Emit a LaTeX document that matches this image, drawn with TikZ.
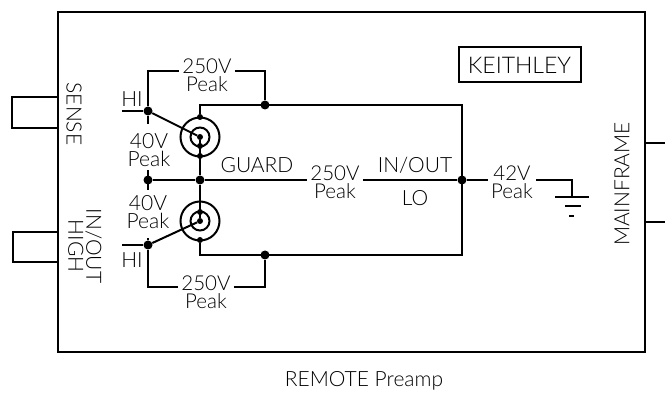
\documentclass[tikz,border=0pt]{standalone}
\usepackage{fontspec}
\setmainfont{Lato Light}
\usetikzlibrary{calc}
\tikzset{
	wire/.style={line width=2pt},
	thinwire/.style={line width=1.5pt},
	junction/.style={circle, fill=black, inner sep=0pt, minimum size=9pt},
	tick/.style={circle, fill=black, inner sep=0pt, minimum size=6pt},
	ring/.style={circle, draw=black, line width=2pt, inner sep=0pt},
	lbl/.style={align=center, inner sep=3pt, font=\fontsize{20.5}{17.5}\selectfont},
	small/.style={align=center, inner sep=0pt, font=\fontsize{21}{18}\selectfont}
}

\begin{document}
\begin{tikzpicture}[x=1pt, y=-1pt]
			%%%%% START %%%%%
			\useasboundingbox (0, 0) rectangle (665, 393);
			
			\draw[wire] (58, 12) rectangle (645, 352);
			\draw[wire] (58, 97) -- (12, 97) -- (12, 128) -- (58, 128);
			\draw[wire] (58, 232) -- (13, 232) -- (13, 262) -- (58, 262);
			\draw[thinwire] (645, 143) -- (665, 143);
			\draw[thinwire] (645, 222) -- (665, 222);
			
			\node[draw, wire, minimum width=122pt, minimum height=35pt, inner sep=0pt, font=\fontsize{23}{23}\selectfont] (keithley) at (519.5, 65) {KEITHLEY};
			
			\node[small, rotate=-90] (sense) at (74, 114) {SENSE};
			\node[small, rotate=-90] (inouthigh) at (85, 246) {IN/OUT\\HIGH};
			\node[small, rotate=90] (mainframe) at (622, 184) {MAINFRAME};
			\node[small] (caption) at (364, 381) {REMOTE Preamp};
			\node[small] (guardlabel) at (257, 165) {GUARD};
			\node[small] (inoutlabel) at (415, 165) {IN/OUT};
			\node[small] (lolabel) at (415, 198) {LO};
			\node[small] (hitop) at (132, 99) {HI};
			\node[small] (hibot) at (132, 260) {HI};
			\node[small] (fortytop) at (149, 150) {40V\\Peak};
			\node[small] (fortybot) at (148, 212) {40V\\Peak};
			
			\node[lbl] (peaktop) at (207, 75) {250V\\Peak};
			\node[lbl] (peakbot) at (206, 292) {250V\\Peak};
			\node[lbl] (peakmid) at (335, 182) {250V\\Peak};
			\node[lbl] (peakgnd) at (512, 182) {42V\\Peak};
			
			\node[ring, minimum size=39pt] (outertop) at (200, 137) {};
			\node[ring, minimum size=19pt] (innertop) at (200, 137) {};
			\node[ring, minimum size=39pt] (outerbot) at (200, 221) {};
			\node[ring, minimum size=19pt] (innerbot) at (200, 221) {};
			\node[tick] (centertop) at (200, 137) {};
			\node[tick] (centerbot) at (200, 221) {};
			\node[tick] (ringtop) at (200, 117) {};
			\node[tick] (ringbot) at (200, 240) {};
			\node[tick] (tapa) at (200, 146) {};
			\node[tick] (tapb) at (200, 156) {};
			\node[tick] (tapc) at (200, 212) {};
			
			\node[junction] (hia) at (148, 111) {};
			\node[junction] (hib) at (148, 245) {};
			\node[junction] (guarda) at (148, 180) {};
			\node[junction] (guardb) at (200, 180) {};
			\node[junction] (loa) at (462, 180) {};
			\node[junction] (toptap) at (265, 105) {};
			\node[junction] (bottap) at (265, 255) {};
			
			\coordinate (hiaend) at (122, 111);
			\coordinate (hibend) at (122, 245);
			\coordinate (hiastub) at (148, 124);
			\coordinate (hibstub) at (148, 238);
			\coordinate (guardup) at (148, 170);
			\coordinate (guarddn) at (148, 190);
			\coordinate (cornera) at (200, 105);
			\coordinate (cornerb) at (462, 105);
			\coordinate (cornerc) at (462, 255);
			\coordinate (cornerd) at (200, 255);
			\coordinate (lefttop) at (148, 71);
			\coordinate (righttop) at (265, 71);
			\coordinate (leftbot) at (148, 287);
			\coordinate (rightbot) at (265, 287);
			\coordinate (gndcorner) at (572, 180);
			\coordinate (gnd) at (572, 197);
			
			\draw[wire] (hiaend) -- (hia);
			\draw[wire] (hibend) -- (hib);
			\draw[wire] (hia) -- (centertop);
			\draw[wire] (hib) -- (centerbot);
			\draw[wire] (hia) -- (hiastub);
			\draw[wire] (hib) -- (hibstub);
			\draw[wire] (guardup) -- (guarddn);
			
			\draw[wire] (ringtop) -- (cornera) -- (cornerb) -- (cornerc) -- (cornerd) -- (ringbot);
			\draw[wire] (centertop) -- (guardb) -- (centerbot);
			
			\draw[wire] (hia) -- (lefttop) -- (lefttop -| peaktop.west);
			\draw[wire] (peaktop.east |- righttop) -- (righttop) -- (toptap);
			\draw[wire] (hib) -- (leftbot) -- (leftbot -| peakbot.west);
			\draw[wire] (peakbot.east |- rightbot) -- (rightbot) -- (bottap);
			
			\draw[wire] (guarda) -- (guardb) -- (guardb -| peakmid.west);
			\draw[wire] (guardb -| peakmid.east) -- (loa);
			\draw[wire] (loa) -- (loa -| peakgnd.west);
			\draw[thinwire] (loa -| peakgnd.east) -- (gndcorner) -- (gnd);
			
			\draw[wire] (555, 197) -- (589, 197);
			\draw[wire] (565, 206.5) -- (581, 206.5);
			\draw[wire] (569, 216) -- (573.5, 216);
			
			%%%%% END %%%%%
		\end{tikzpicture}
\end{document}
